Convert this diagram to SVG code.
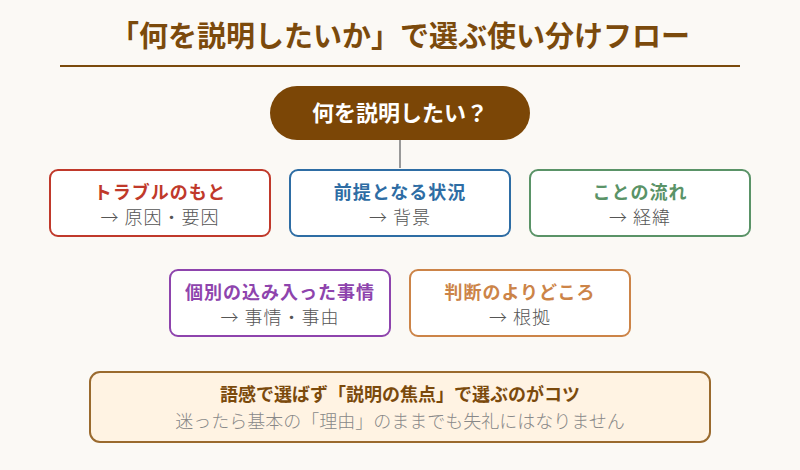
<svg xmlns="http://www.w3.org/2000/svg" width="800" height="470" viewBox="0 0 800 470">
<style>
text{font-family:"Noto Sans CJK JP","Noto Sans CJK SC",sans-serif;text-anchor:middle}
.box{fill:#ffffff;stroke-width:2}
.t{font-size:18px;font-weight:bold;letter-spacing:1px}
.s{font-size:18px;fill:#555555;font-weight:300;letter-spacing:1px}
</style>
<rect width="800" height="470" fill="#fbf9f5"/>
<g id="title">
<text x="400" y="47" font-size="29" font-weight="bold" fill="#7b4a0c">「何を説明したいか」で選ぶ使い分けフロー</text>
<line x1="60" y1="66" x2="740" y2="66" stroke="#7b4a0c" stroke-width="2"/>
</g>
<g id="connectors">
<line x1="400" y1="140" x2="400" y2="168" stroke="#999999" stroke-width="2"/>
</g>
<g id="root">
<rect x="270" y="86" width="260" height="54" rx="27" fill="#7b4606"/>
<text x="400" y="121" font-size="22" font-weight="bold" fill="#ffffff">何を説明したい？</text>
</g>
<g id="n1">
<rect class="box" x="50" y="170" width="220" height="66" rx="8" stroke="#c0392b"/>
<text class="t" x="160" y="199" fill="#c0392b">トラブルのもと</text>
<text class="s" x="160" y="224">→ 原因・要因</text>
</g>
<g id="n2">
<rect class="box" x="290" y="170" width="220" height="66" rx="8" stroke="#2e6da4"/>
<text class="t" x="400" y="199" fill="#2e6da4">前提となる状況</text>
<text class="s" x="400" y="224">→ 背景</text>
</g>
<g id="n3">
<rect class="box" x="530" y="170" width="220" height="66" rx="8" stroke="#5a9367"/>
<text class="t" x="640" y="199" fill="#5a9367">ことの流れ</text>
<text class="s" x="640" y="224">→ 経緯</text>
</g>
<g id="n4">
<rect class="box" x="170" y="270" width="220" height="66" rx="8" stroke="#8e44ad"/>
<text class="t" x="280" y="299" fill="#8e44ad">個別の込み入った事情</text>
<text class="s" x="280" y="324">→ 事情・事由</text>
</g>
<g id="n5">
<rect class="box" x="410" y="270" width="220" height="66" rx="8" stroke="#cc8448"/>
<text class="t" x="520" y="299" fill="#cc8448">判断のよりどころ</text>
<text class="s" x="520" y="324">→ 根拠</text>
</g>
<g id="tip">
<rect x="90" y="372" width="620" height="70" rx="10" fill="#fff3e3" stroke="#9a6a2e" stroke-width="2"/>
<text x="400" y="401" font-size="18" font-weight="bold" fill="#7b4a0c">語感で選ばず「説明の焦点」で選ぶのがコツ</text>
<text x="400" y="428" font-size="18" font-weight="300" fill="#888888">迷ったら基本の「理由」のままでも失礼にはなりません</text>
</g>
</svg>
